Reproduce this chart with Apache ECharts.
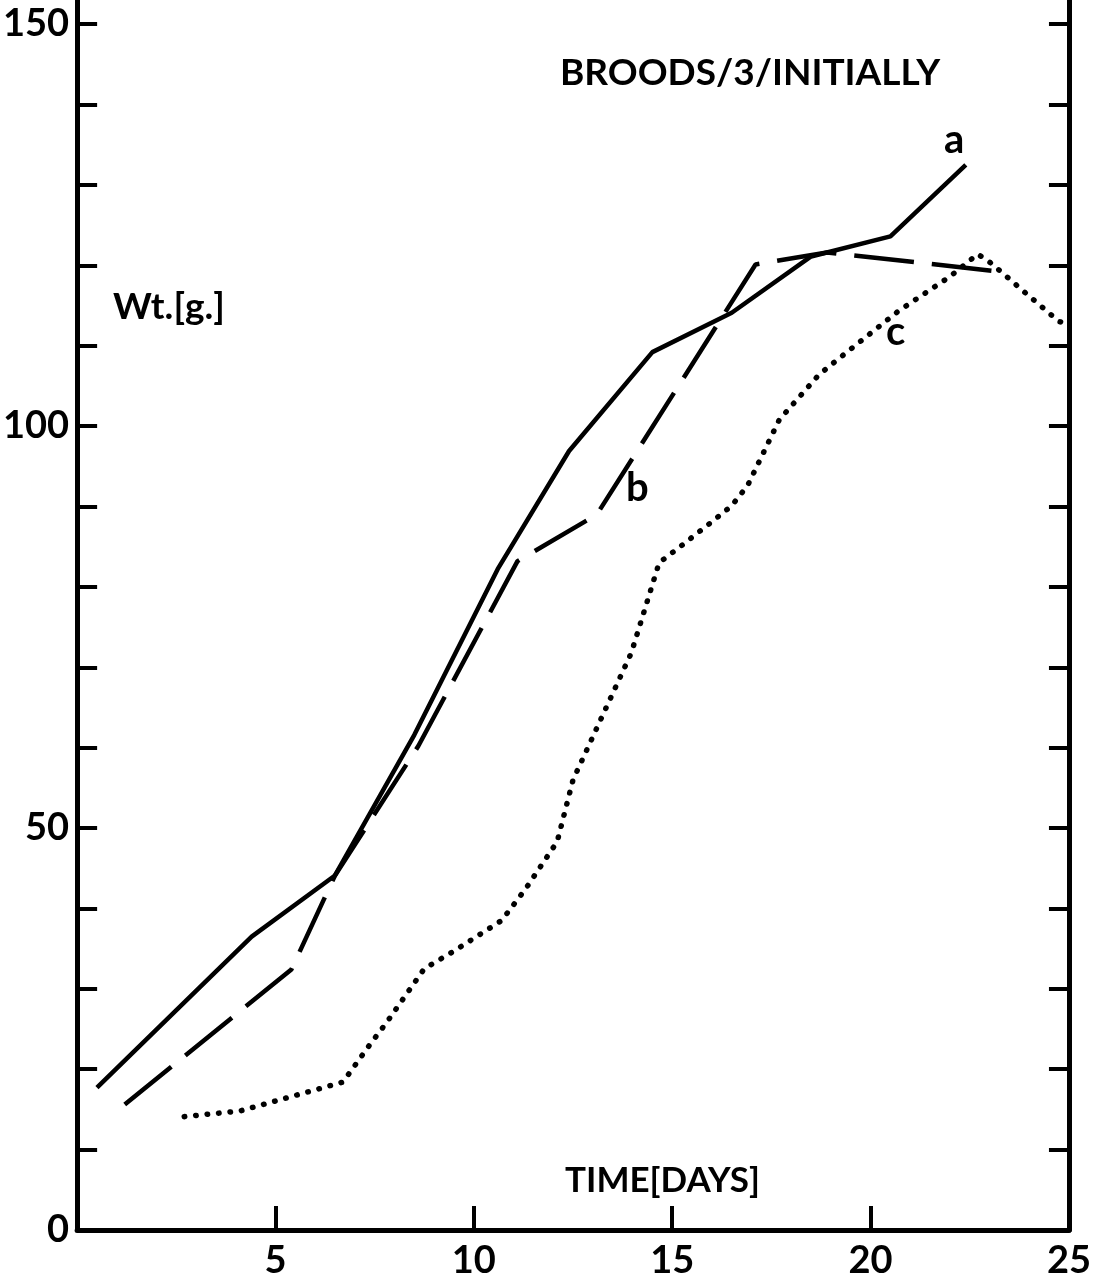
<!DOCTYPE html>
<html>
<head>
<meta charset="utf-8">
<script src="https://cdn.jsdelivr.net/npm/echarts@6/dist/echarts.min.js"></script>
<style>html,body{margin:0;padding:0;background:#fff}#c{width:1094px;height:1280px}</style>
</head>
<body>
<div id="c"></div>
<script>
// Series a (solid)
const aDays = [0.5, 4.4, 6.5, 8.5, 10.6, 12.4, 14.5, 16.5, 18.5, 20.5, 22.4];
const aWt   = [17.7, 36.5, 44.1, 61.6, 82.2, 96.9, 109.2, 114.1, 121.1, 123.6, 132.5];
// Series b (dashed)
const bDays = [1.2, 5.4, 6.5, 8.6, 11.1, 13.1, 17.1, 18.9, 23.1];
const bWt   = [15.6, 32.4, 44.1, 60.2, 83.2, 89.0, 120.1, 121.6, 119.3];
// Series c (dotted)
const cDays = [2.7, 4.1, 5.4, 6.7, 7.4, 7.8, 8.75, 9.5, 10.1, 10.7, 11.3, 12.1, 12.5, 13.97, 14.37, 14.67, 15.2, 16.0, 16.5, 16.9, 17.7, 18.7, 19.2, 20.7, 22.0, 22.7, 23.0, 23.5, 23.8, 24.75, 25.0];
const cWt   = [14.1, 14.8, 16.6, 18.4, 23.2, 25.8, 32.5, 34.7, 36.6, 38.5, 42.4, 48.3, 56.0, 71.8, 78.2, 83.0, 85.0, 88.1, 90.1, 92.6, 100.8, 106.4, 108.4, 114.3, 118.6, 121.4, 120.4, 118.3, 117.0, 113.0, 112.7];
// Axis ticks / labels
const yTicks = [0, 10, 20, 30, 40, 50, 60, 70, 80, 90, 100, 110, 120, 130, 140, 150];
const yLabels = [0, 50, 100, 150];
const xTicks = [5, 10, 15, 20];
const xLabels = [5, 10, 15, 20, 25];
const seriesLabels = ['a', 'b', 'c'];
const titleText = 'BROODS/3/INITIALLY';
const yName = 'Wt.[g.]';
const xName = 'TIME[DAYS]';

const zip = (xs, ys) => xs.map((x, i) => [x, ys[i]]);
const FONT = 'Lato';

const chart = echarts.init(document.getElementById('c'));
const lineAxis = { show: true, lineStyle: { color: '#000', width: 5 } };
chart.setOption({
  backgroundColor: '#fff',
  animation: false,
  grid: { left: 75, right: 22, top: 0, bottom: 50, containLabel: false },
  xAxis: {
    type: 'value', min: 0, max: 25,
    axisLine: lineAxis,
    splitLine: { show: false },
    axisTick: { show: true, inside: true, length: 24, customValues: xTicks, lineStyle: { color: '#000', width: 4 } },
    axisLabel: { customValues: xLabels, color: '#000', fontFamily: FONT, fontWeight: 'bold', fontSize: 38, margin: 12 }
  },
  yAxis: [
    {
      type: 'value', min: 0, max: 153, position: 'left',
      axisLine: lineAxis,
      splitLine: { show: false },
      axisTick: { show: true, inside: true, length: 20, customValues: yTicks, lineStyle: { color: '#000', width: 4 } },
      axisLabel: { customValues: yLabels, color: '#000', fontFamily: FONT, fontWeight: 'bold', fontSize: 38, margin: 8 }
    },
    {
      type: 'value', min: 0, max: 153, position: 'right',
      axisLine: lineAxis,
      splitLine: { show: false },
      axisTick: { show: true, inside: true, length: 20, customValues: yTicks, lineStyle: { color: '#000', width: 4 } },
      axisLabel: { show: false }
    }
  ],
  series: [
    { type: 'line', name: 'a', data: zip(aDays, aWt), symbol: 'none', lineStyle: { color: '#000', width: 4.5 } },
    { type: 'line', name: 'b', data: zip(bDays, bWt), symbol: 'none', lineStyle: { color: '#000', width: 4.5, type: [60, 18] } },
    { type: 'line', name: 'c', data: zip(cDays, cWt), symbol: 'none', lineStyle: { color: '#000', width: 5.5, type: [0.5, 11], cap: 'round' } }
  ],
  graphic: [
    { type: 'text', left: 560, top: 55, style: { text: titleText, font: 'bold 37px ' + FONT, fill: '#000' } },
    { type: 'text', left: 113, top: 289, style: { text: yName, font: 'bold 37px ' + FONT, fill: '#000' } },
    { type: 'text', left: 565, top: 1163, style: { text: xName, font: 'bold 35px ' + FONT, fill: '#000' } },
    { type: 'text', left: 944, top: 120, style: { text: seriesLabels[0], font: 'bold 40px ' + FONT, fill: '#000' } },
    { type: 'text', left: 626, top: 468, style: { text: seriesLabels[1], font: 'bold 40px ' + FONT, fill: '#000' } },
    { type: 'text', left: 886, top: 312, style: { text: seriesLabels[2], font: 'bold 40px ' + FONT, fill: '#000' } }
  ]
});
</script>
</body>
</html>
